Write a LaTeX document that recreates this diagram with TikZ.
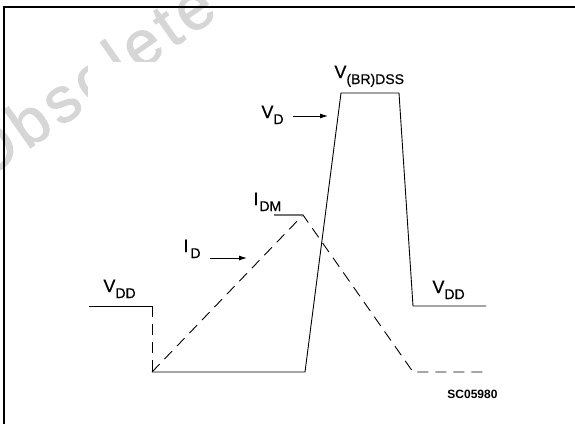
\documentclass[tikz,border=0pt]{standalone}
\usepackage{fontspec}
\setmainfont{Liberation Sans}
\newfontfamily\markfont[LetterSpace=7.5,FakeBold=1.5]{Liberation Sans}
\newfontfamily\sigfont[FakeBold=0.6]{Liberation Sans}
\usetikzlibrary{arrows.meta}

\newcommand{\lowsub}[1]{\raisebox{-6pt}{\fontsize{14}{14}\selectfont #1}}

\begin{document}
\begin{tikzpicture}[
                            x=1pt,
                            y=-1pt,
                            >={Latex[length=8pt,width=5pt]},
                            line width=0.9pt,
                            sig/.style={anchor=base west,inner sep=0pt,font=\sigfont\fontsize{18}{18}\selectfont},
                            fastwave/.style={dash pattern=on 11pt off 7pt},
                            peak/.style={draw=black!55,line width=1.6pt}
                        ]
                        \useasboundingbox (0,0) rectangle (575,424);
                        \clip (0,0) rectangle (575,424);

                        % watermark, hidden behind the plot area
                        \node[anchor=base west,inner sep=0pt,rotate=35,text=black!16,
                              font=\markfont\fontsize{64}{64}\selectfont] (mark) at (-18,182) {Obsolete};
                        \fill[white] (88,62) rectangle (575,424);

                        \draw[line width=2pt] (575,7) -- (4,7) -- (4,424);

                        % V_D
                        \draw (89,306) -- (152,306);
                        \draw[fastwave] (152,306) -- (152,372);
                        \draw (152,372) -- (305,372) -- (341,93) -- (399,93) -- (413,306) -- (486,306);

                        % I_D
                        \draw[fastwave] (152,372) -- (303,215) -- (413,372) -- (486,372);
                        \draw[peak] (274,215) -- (303,215);

                        \node[sig] (vddl) at (103,292) {V\lowsub{DD}};
                        \node[sig] (vd)   at (261,118) {V\lowsub{D}};
                        \node[sig] (vbr)  at (334,78)  {V\lowsub{(BR)DSS}};
                        \node[sig] (idm)  at (253,205) {I\kern1pt\lowsub{DM}};
                        \node[sig] (id)   at (183,252) {I\kern2pt\lowsub{D}};
                        \node[sig] (vddr) at (432,293) {V\lowsub{DD}};
                        \node[anchor=base west,inner sep=0pt,font=\bfseries\fontsize{12}{12}\selectfont]
                              (code) at (447,398) {SC05980};

                        \coordinate (vdtail) at (293,116);
                        \coordinate (vdtip)  at (328,116);
                        \coordinate (idtail) at (210,258);
                        \coordinate (idtip)  at (247,258);

                        \path
                        (vdtail) edge[->] (vdtip)
                        (idtail) edge[->] (idtip)
                        ;
                    \end{tikzpicture}
\end{document}
